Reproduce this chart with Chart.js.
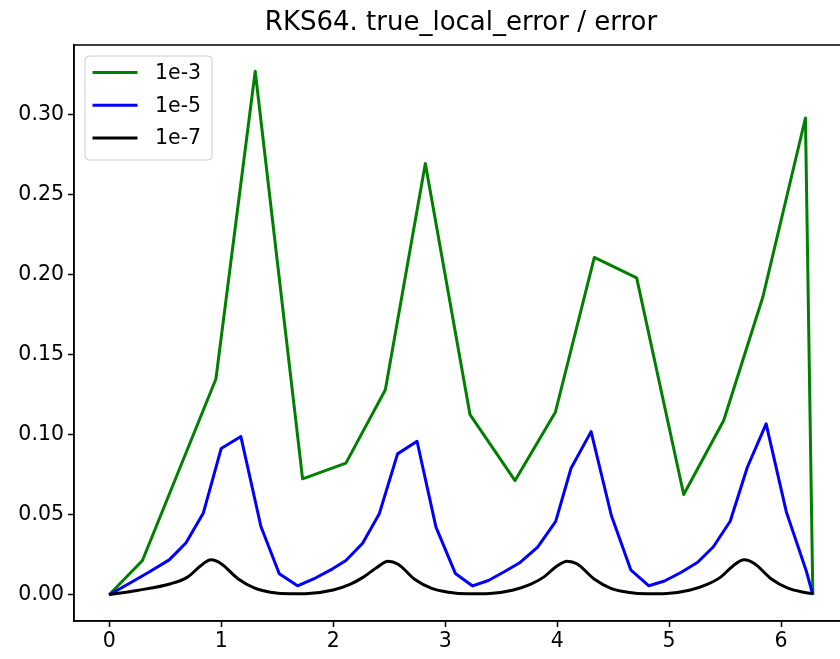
<!DOCTYPE html>
<html>
<head>
<meta charset="utf-8">
<script src="https://cdn.jsdelivr.net/npm/chart.js@4/dist/chart.umd.min.js"></script>
<style>
	html, body { margin: 0; padding: 0; background: #fff; overflow: hidden; }
	canvas { display: block; }
</style>
</head>
<body>
<canvas id="myChart" width="860" height="659"></canvas>
<script>
const TITLE = 'RKS64. true_local_error / error'
const LABELS = ['1e-3', '1e-5', '1e-7']
const COLORS = ['#008000', '#0000ff', '#000000']

// tol 1e-3
const t3 = [0, 0.297, 0.953, 1.304, 1.727, 2.114, 2.466, 2.823, 3.222, 3.624, 3.984, 4.332, 4.710, 5.130, 5.487, 5.836, 6.217, 6.283]
const err3 = [0, 0.0214, 0.1348, 0.327, 0.0724, 0.0822, 0.128, 0.2694, 0.1125, 0.0713, 0.114, 0.2107, 0.1979, 0.0626, 0.1088, 0.1858, 0.2978, 0]

// tol 1e-5
const t5 = [0, 0.179, 0.357, 0.536, 0.685, 0.841, 1.000, 1.176, 1.355, 1.519, 1.682, 1.846, 1.995, 2.114, 2.263, 2.412, 2.575, 2.749, 2.918, 3.091,
	3.245, 3.386, 3.524, 3.662, 3.826, 3.987, 4.124, 4.303, 4.484, 4.657, 4.819, 4.958, 5.105, 5.255, 5.395, 5.545, 5.699, 5.866, 6.047, 6.223, 6.283]
const err5 = [0, 0.0070, 0.0142, 0.0218, 0.0323, 0.0511, 0.0913, 0.0988, 0.0426, 0.0131, 0.0056, 0.0106, 0.0162, 0.0214, 0.0322, 0.0506, 0.0880, 0.0959, 0.0422, 0.0133,
	0.0055, 0.0089, 0.0142, 0.0198, 0.0297, 0.0458, 0.0790, 0.1019, 0.0495, 0.0156, 0.0056, 0.0086, 0.0139, 0.0203, 0.0300, 0.0459, 0.0798, 0.1067, 0.0516, 0.0152, 0]

// tol 1e-7
const t7 = [0, 0.25, 0.55, 0.70, 0.82, 0.91, 1.00, 1.15, 1.30, 1.44, 1.62,
	1.78, 2.00, 2.15, 2.27, 2.39, 2.49, 2.58, 2.73, 2.88, 3.03, 3.20,
	3.40, 3.60, 3.76, 3.88, 3.99, 4.09, 4.18, 4.33, 4.48, 4.63, 4.80,
	4.98, 5.18, 5.34, 5.46, 5.57, 5.67, 5.76, 5.91, 6.06, 6.20, 6.283]
const err7 = [0, 0.0027, 0.0069, 0.0110, 0.0183, 0.0218, 0.0194, 0.0100, 0.0041, 0.0016, 0.0006,
	0.0008, 0.0030, 0.0065, 0.0110, 0.0170, 0.0210, 0.0190, 0.0095, 0.0040, 0.0016, 0.0006,
	0.0008, 0.0028, 0.0065, 0.0110, 0.0175, 0.0210, 0.0192, 0.0098, 0.0040, 0.0016, 0.0006,
	0.0008, 0.0028, 0.0065, 0.0110, 0.0180, 0.0218, 0.0195, 0.0100, 0.0041, 0.0016, 0.0006]

const X_TICKS = [0, 1, 2, 3, 4, 5, 6]
const Y_TICKS = [0, 0.05, 0.10, 0.15, 0.20, 0.25, 0.30]

const FONT = { family: 'DejaVu Sans', size: 20.5 }

const zip = (xs, ys) => xs.map((x, i) => ({ x, y: ys[i] }))

// frame, title and a matplotlib-ish legend box
const decorations = {
	id: 'decorations',
	afterDatasetsDraw(chart) {
		const { ctx, chartArea: a } = chart
		ctx.save()
		ctx.strokeStyle = '#000'
		ctx.lineWidth = 1.5
		ctx.strokeRect(a.left, a.top, a.right - a.left, a.bottom - a.top)

		ctx.fillStyle = '#000'
		ctx.font = `26px "DejaVu Sans"`
		ctx.textAlign = 'center'
		ctx.textBaseline = 'middle'
		ctx.fillText(TITLE, (a.left + a.right) / 2, 23)

		const bx = a.left + 11, by = a.top + 11, bw = 127, bh = 104
		ctx.beginPath()
		ctx.roundRect(bx, by, bw, bh, 4)
		ctx.fillStyle = 'rgba(255,255,255,0.8)'
		ctx.fill()
		ctx.strokeStyle = '#cccccc'
		ctx.lineWidth = 1
		ctx.stroke()

		ctx.font = `${FONT.size}px "DejaVu Sans"`
		ctx.textAlign = 'left'
		chart.data.datasets.forEach((ds, i) => {
			const y = by + 16.5 + i * 32.7
			ctx.beginPath()
			ctx.moveTo(bx + 7.5, y)
			ctx.lineTo(bx + 52.5, y)
			ctx.strokeStyle = ds.borderColor
			ctx.lineWidth = 3
			ctx.stroke()
			ctx.fillStyle = '#000'
			ctx.fillText(ds.label, bx + 70, y + 1)
		})
		ctx.restore()
	}
}

const datasets = [
	{ label: LABELS[0], data: zip(t3, err3), borderColor: COLORS[0], order: 3 },
	{ label: LABELS[1], data: zip(t5, err5), borderColor: COLORS[1], order: 2 },
	{ label: LABELS[2], data: zip(t7, err7), borderColor: COLORS[2], order: 1, cubicInterpolationMode: 'monotone' }
].map(ds => ({ ...ds, borderWidth: 3, borderJoinStyle: 'round', pointRadius: 0, fill: false, tension: 0 }))

new Chart(document.getElementById('myChart'), {
	type: 'line',
	data: { datasets },
	plugins: [decorations],
	options: {
		responsive: false,
		animation: false,
		layout: { padding: { left: 0, right: 12, top: 45, bottom: 0 } },
		plugins: {
			legend: { display: false },
			title: { display: false },
			tooltip: { enabled: false }
		},
		scales: {
			x: {
				type: 'linear',
				min: -0.314,
				max: 6.597,
				afterBuildTicks(scale) { scale.ticks = X_TICKS.map(value => ({ value })) },
				afterFit(scale) { scale.height = 38 },
				ticks: { color: '#000', font: FONT, padding: 2, maxRotation: 0, callback: v => String(v) },
				grid: { drawOnChartArea: false, drawTicks: true, tickLength: 6, tickWidth: 1.5, color: '#000' },
				border: { display: true, color: '#000', width: 1.5 }
			},
			y: {
				type: 'linear',
				min: -0.0164,
				max: 0.3434,
				afterBuildTicks(scale) { scale.ticks = Y_TICKS.map(value => ({ value })) },
				afterFit(scale) { scale.width = 74 },
				ticks: { color: '#000', font: FONT, padding: 4, callback: v => v.toFixed(2) },
				grid: { drawOnChartArea: false, drawTicks: true, tickLength: 6, tickWidth: 1.5, color: '#000' },
				border: { display: true, color: '#000', width: 1.5 }
			}
		}
	}
})
</script>
</body>
</html>
